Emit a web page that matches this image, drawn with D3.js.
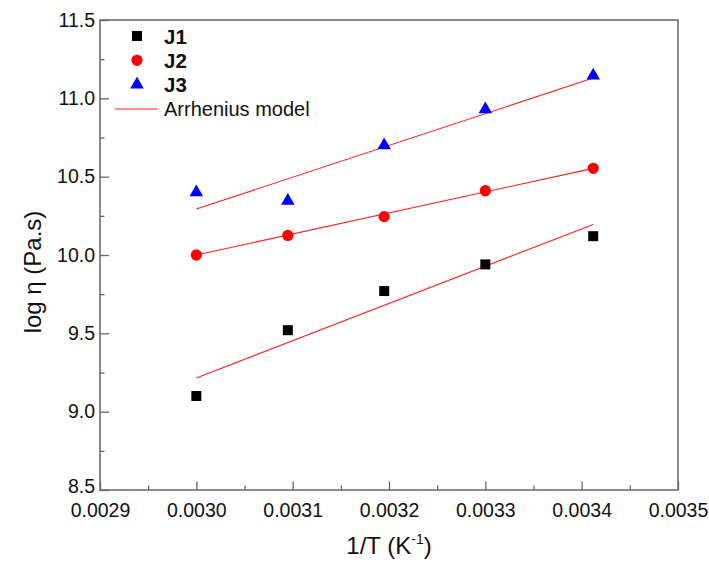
<!DOCTYPE html>
<html>
<head>
<meta charset="utf-8">
<style>
  body { margin: 0; background: #fff; }
  svg text { font-family: "Liberation Sans", Arial, sans-serif; }
</style>
</head>
<body>
<div id="chart"></div>
<script src="https://d3js.org/d3.v7.min.js"></script>
<script>
// ---- data ----
var invT = [0.00300, 0.003095, 0.003195, 0.00330, 0.003412];
var j1 = [9.10, 9.52, 9.77, 9.94, 10.12];
var j2 = [10.00, 10.125, 10.245, 10.41, 10.553];
var j3 = [10.40, 10.345, 10.70, 10.93, 11.145];
// Arrhenius fit lines: value at first and last 1/T
var fitJ1 = [9.215, 10.195];
var fitJ2 = [10.00, 10.553];
var fitJ3 = [10.293, 11.13];
var xTicks = [0.0029, 0.0030, 0.0031, 0.0032, 0.0033, 0.0034, 0.0035];
var yTicks = [8.5, 9.0, 9.5, 10.0, 10.5, 11.0, 11.5];
var legendNames = ["J1", "J2", "J3", "Arrhenius model"];

var W = 709, H = 562;
var margin = {top: 20, right: 31, bottom: 72, left: 100};
var width = W - margin.left - margin.right,
    height = H - margin.top - margin.bottom;

var svg = d3.select("#chart").append("svg")
  .attr("width", W)
  .attr("height", H);

var g = svg.append("g")
  .attr("transform", "translate(" + margin.left + "," + margin.top + ")");

var x = d3.scaleLinear().domain([0.0029, 0.0035]).range([0, width]);
var y = d3.scaleLinear().domain([8.5, 11.5]).range([height, 0]);

var axisColor = "#666";

// minor ticks
var xMinor = d3.range(0, 6).map(function(i) { return 0.0029 + 0.0001 * i + 0.00005; });
var yMinor = d3.range(0, 6).map(function(i) { return 8.5 + 0.5 * i + 0.25; });

g.append("g")
  .attr("class", "x minor")
  .attr("transform", "translate(0," + height + ")")
  .call(d3.axisBottom(x).tickValues(xMinor).tickSize(-4.5).tickSizeOuter(0).tickFormat(""));

g.append("g")
  .attr("class", "y minor")
  .call(d3.axisLeft(y).tickValues(yMinor).tickSize(-4.5).tickSizeOuter(0).tickFormat(""));

g.append("g")
  .attr("class", "x axis")
  .attr("transform", "translate(0," + height + ")")
  .call(d3.axisBottom(x).tickValues(xTicks).tickSize(-8.5).tickSizeOuter(0)
    .tickPadding(13).tickFormat(d3.format(".4f")));

g.append("g")
  .attr("class", "y axis")
  .call(d3.axisLeft(y).tickValues(yTicks).tickSize(-9).tickSizeOuter(0)
    .tickPadding(5).tickFormat(d3.format(".1f")));

g.selectAll(".domain").remove();
g.selectAll(".tick line").attr("stroke", axisColor).attr("stroke-width", 1.3);
g.selectAll(".tick text").attr("fill", "#111").style("font-size", "19.5px");
// lift the bottom y label a little so it clears 0.0029
g.selectAll(".y.axis .tick text").filter(function(d) { return d === 8.5; }).attr("dy", "0.12em");

// frame
g.append("rect")
  .attr("width", width)
  .attr("height", height)
  .attr("fill", "none")
  .attr("stroke", axisColor)
  .attr("stroke-width", 1.5);

// fit lines
var fits = [fitJ1, fitJ2, fitJ3];
fits.forEach(function(f) {
  g.append("line")
    .attr("x1", x(invT[0]))
    .attr("y1", y(f[0]))
    .attr("x2", x(invT[invT.length - 1]))
    .attr("y2", y(f[1]))
    .attr("stroke", "#ff2020")
    .attr("stroke-width", 1.1);
});

var series = [
  {vals: j1, color: "#000000", shape: d3.symbolSquare, size: 100},
  {vals: j2, color: "#ff0000", shape: d3.symbolCircle, size: 100},
  {vals: j3, color: "#0000ff", shape: d3.symbolTriangle, size: 80}
];

series.forEach(function(s) {
  g.selectAll(null)
    .data(s.vals)
    .enter().append("path")
    .attr("d", d3.symbol().type(s.shape).size(s.size))
    .attr("transform", function(d, i) { return "translate(" + x(invT[i]) + "," + y(d) + ")"; })
    .attr("fill", s.color);
});

// legend
var leg = svg.append("g");
series.forEach(function(s, i) {
  leg.append("path")
    .attr("d", d3.symbol().type(s.shape).size(s.size))
    .attr("transform", "translate(137," + (36 + i * 24.3) + ")")
    .attr("fill", s.color);
  leg.append("text")
    .attr("x", 164)
    .attr("y", 43.5 + i * 24.3)
    .style("font-size", "20.5px")
    .style("font-weight", "bold")
    .attr("fill", "#111")
    .text(legendNames[i]);
});
leg.append("line")
  .attr("x1", 115).attr("x2", 158)
  .attr("y1", 109).attr("y2", 109)
  .attr("stroke", "#ff2020")
  .attr("stroke-width", 1.1);
leg.append("text")
  .attr("x", 164)
  .attr("y", 116)
  .style("font-size", "20px")
  .attr("fill", "#111")
  .text(legendNames[3]);

// axis titles
var xt = svg.append("text")
  .attr("x", margin.left + width / 2)
  .attr("y", 554)
  .attr("text-anchor", "middle")
  .style("font-size", "24px")
  .attr("fill", "#111");
xt.append("tspan").text("1/T (K");
xt.append("tspan").attr("dy", -10).style("font-size", "14px").text("-1");
xt.append("tspan").attr("dy", 10).text(")");

svg.append("text")
  .attr("transform", "translate(41," + 272 + ") rotate(-90)")
  .attr("text-anchor", "middle")
  .style("font-size", "24px")
  .attr("fill", "#111")
  .text("log η (Pa.s)");
</script>
</body>
</html>
